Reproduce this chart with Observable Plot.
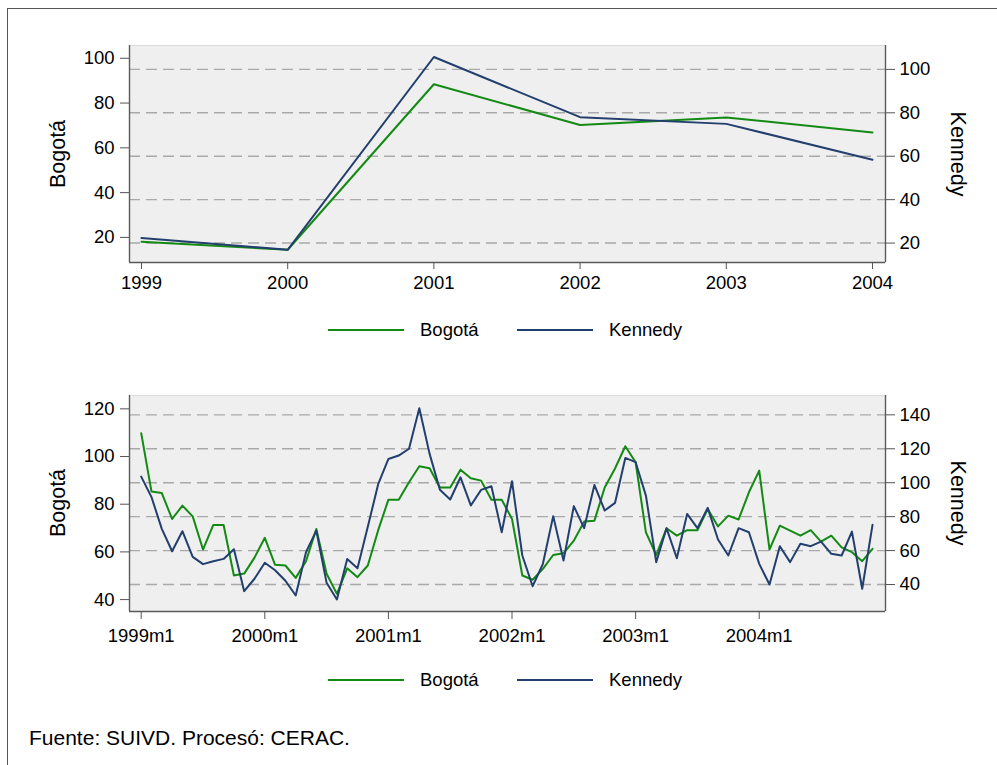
<!DOCTYPE html>
<html>
<head>
<meta charset="utf-8">
<script src="https://cdn.jsdelivr.net/npm/d3@7"></script>
<script src="https://cdn.jsdelivr.net/npm/@observablehq/plot@0.6"></script>
<style>
  body { margin: 0; background: #fff; font-family: "Liberation Sans", Arial, sans-serif; }
  #fig { position: relative; width: 997px; height: 765px; overflow: hidden; background: #fff; }
  .border { position: absolute; left: 7px; top: 8px; width: 1200px; height: 1200px; border: 1.3px solid #555; box-sizing: border-box; }
  .ytitle { position: absolute; font-size: 21.5px; white-space: nowrap; color: #000; }
  .caption { position: absolute; left: 29px; top: 726px; font-size: 21px; color: #000; white-space: nowrap; }
</style>
</head>
<body>
<div id="fig"><div class="border"></div></div>
<script>
// ---------- data ----------
const years = [1999, 2000, 2001, 2002, 2003, 2004];
const bogotaAnual  = [18.1, 14.5, 88.4, 70.2, 73.6, 66.9];
const kennedyAnual = [22.3, 16.9, 105.7, 78.0, 74.9, 58.4];

const bogotaMensual = [
  109.8, 85.3, 84.7, 73.8, 79.4, 74.9, 61.0, 71.3, 71.3, 50.1, 50.9, 57.6,
  65.9, 54.6, 54.3, 49.1, 56.1, 69.6, 50.8, 42.4, 53.1, 49.4, 54.3, 69.0,
  81.9, 81.9, 89.2, 95.9, 95.1, 87.0, 87.0, 94.5, 90.9, 89.9, 81.9, 81.9,
  73.8, 50.1, 48.3, 52.9, 58.7, 59.4, 64.7, 72.7, 73.1, 87.0, 95.0, 104.3,
  97.6, 68.2, 58.7, 69.9, 66.8, 69.1, 69.1, 78.0, 70.7, 75.2, 73.6, 85.0,
  94.1, 61.0, 71.0, 68.9, 66.8, 69.1, 64.3, 66.8, 61.9, 59.9, 56.1, 61.3
];
const kennedyMensual = [
  103.6, 91.5, 72.8, 59.6, 71.4, 56.3, 52.0, 53.7, 55.1, 60.8, 36.1, 43.4,
  52.8, 48.4, 42.2, 33.5, 59.0, 71.8, 41.0, 31.2, 55.1, 49.6, 74.0, 99.0,
  114.0, 116.0, 120.0, 143.9, 117.0, 95.8, 90.1, 103.2, 86.6, 95.8, 97.9, 70.8,
  100.9, 57.1, 39.0, 52.2, 80.3, 54.1, 86.2, 73.2, 98.7, 83.6, 88.1, 114.6,
  112.1, 92.4, 53.2, 73.2, 55.5, 81.6, 73.2, 85.2, 66.5, 57.1, 73.2, 70.8,
  52.2, 40.0, 62.6, 53.2, 64.0, 62.6, 65.3, 58.1, 57.1, 71.2, 37.5, 75.2
];
const monthTicks = [0, 12, 24, 36, 48, 60];
const monthTickLabels = ["1999m1", "2000m1", "2001m1", "2002m1", "2003m1", "2004m1"];

const topLeftTicks = [20, 40, 60, 80, 100];
const topRightTicks = [20, 40, 60, 80, 100];
const botLeftTicks = [40, 60, 80, 100, 120];
const botRightTicks = [40, 60, 80, 100, 120, 140];

const seriesNames = ["Bogotá", "Kennedy"];
const seriesColors = ["#138a13", "#233f6e"];

// ---------- helpers ----------
const fig = document.getElementById("fig");
const W = 997, H = 300, ML = 129, MR = 112, MT = 45;
const FONT = "'Liberation Sans', Arial, sans-serif";

function base(mb, xDom, yDom, marks) {
  return Plot.plot({
    width: W, height: H, marginLeft: ML, marginRight: MR, marginTop: MT, marginBottom: mb,
    x: {domain: xDom, axis: null},
    y: {domain: yDom, axis: null},
    style: {background: "transparent", fontFamily: FONT, fontSize: "18.5px", color: "#000", overflow: "visible"},
    marks
  });
}
function place(svg, top) {
  svg.style.position = "absolute";
  svg.style.left = "0px";
  svg.style.top = top + "px";
  fig.appendChild(svg);
}

function panel(cfg) {
  const {top, mb, xDom, yL, yR, xTicks, xFmt, xTickSize, xTickPad, xs, bog, ken, leftTicks, rightTicks} = cfg;
  // Layer A: background, grid, right axis (Kennedy scale)
  place(base(mb, xDom, yR, [
    Plot.frame({fill: "#efefef", stroke: "#dcdcdc", strokeWidth: 1}),
    Plot.ruleY(rightTicks, {stroke: "#a9a9a9", strokeWidth: 1.4, strokeDasharray: "11,6"}),
    Plot.axisY(rightTicks, {anchor: "right", tickSize: 9, tickPadding: 5, label: null, stroke: "#555", fill: "#000"}),
    Plot.ruleX([xDom[1]], {stroke: "#5a5a5a", strokeWidth: 1.4})
  ]), top);
  // Layer B: Bogotá (left scale) + left/bottom axes
  place(base(mb, xDom, yL, [
    Plot.lineY(bog, {x: xs, stroke: seriesColors[0], strokeWidth: 2}),
    Plot.ruleX([xDom[0]], {stroke: "#5a5a5a", strokeWidth: 1.4}),
    Plot.ruleY([yL[0]], {stroke: "#5a5a5a", strokeWidth: 1.4}),
    Plot.axisY(leftTicks, {anchor: "left", tickSize: 9, tickPadding: 6, label: null, stroke: "#555", fill: "#000"}),
    Plot.axisX(xTicks, {anchor: "bottom", tickSize: xTickSize, tickPadding: xTickPad, label: null, tickFormat: xFmt, stroke: "#555", fill: "#000"})
  ]), top);
  // Layer C: Kennedy (right scale)
  place(base(mb, xDom, yR, [
    Plot.lineY(ken, {x: xs, stroke: seriesColors[1], strokeWidth: 2})
  ]), top);
}

// Top panel (annual)
panel({
  top: 0, mb: 38,
  xDom: [1998.918, 2004.089], yL: [8.8, 105.7], yR: [11.05, 111],
  xTicks: years, xFmt: d => String(d), xTickSize: 7, xTickPad: 6,
  xs: years, bog: bogotaAnual, ken: kennedyAnual,
  leftTicks: topLeftTicks, rightTicks: topRightTicks
});

// Bottom panel (monthly)
const monthIdx = bogotaMensual.map((d, i) => i);
panel({
  top: 350, mb: 39,
  xDom: [-1.136, 72.26], yL: [35, 125.6], yR: [24.1, 151.4],
  xTicks: monthTicks, xFmt: d => monthTickLabels[monthTicks.indexOf(d)], xTickSize: 8, xTickPad: 9,
  xs: monthIdx, bog: bogotaMensual, ken: kennedyMensual,
  leftTicks: botLeftTicks, rightTicks: botRightTicks
});

// Axis titles
function ytitle(text, cx, cy, rot) {
  const d = document.createElement("div");
  d.className = "ytitle";
  d.textContent = text;
  d.style.left = cx + "px";
  d.style.top = cy + "px";
  d.style.transform = `translate(-50%, -50%) rotate(${rot}deg)`;
  fig.appendChild(d);
}
ytitle(seriesNames[0], 58, 153.5, -90);
ytitle(seriesNames[1], 957, 153.5, 90);
ytitle(seriesNames[0], 58, 503, -90);
ytitle(seriesNames[1], 957, 503, 90);

// Legends
function legend(cy) {
  const ns = "http://www.w3.org/2000/svg";
  const svg = document.createElementNS(ns, "svg");
  svg.setAttribute("width", W); svg.setAttribute("height", 40);
  svg.style.position = "absolute"; svg.style.left = "0px"; svg.style.top = (cy - 20) + "px";
  const items = [{x1: 328, x2: 404, tx: 420}, {x1: 517, x2: 593, tx: 609}];
  items.forEach((it, k) => {
    const l = document.createElementNS(ns, "line");
    l.setAttribute("x1", it.x1); l.setAttribute("x2", it.x2);
    l.setAttribute("y1", 20); l.setAttribute("y2", 20);
    l.setAttribute("stroke", seriesColors[k]); l.setAttribute("stroke-width", 2);
    svg.appendChild(l);
    const t = document.createElementNS(ns, "text");
    t.setAttribute("x", it.tx); t.setAttribute("y", 20);
    t.setAttribute("dy", "0.35em");
    t.setAttribute("font-size", "18.5px");
    t.setAttribute("font-family", FONT);
    t.setAttribute("fill", "#000");
    t.textContent = seriesNames[k];
    svg.appendChild(t);
  });
  fig.appendChild(svg);
}
legend(330);
legend(680);

// Caption
const cap = document.createElement("div");
cap.className = "caption";
cap.textContent = "Fuente: SUIVD. Procesó: CERAC.";
fig.appendChild(cap);
</script>
</body>
</html>
